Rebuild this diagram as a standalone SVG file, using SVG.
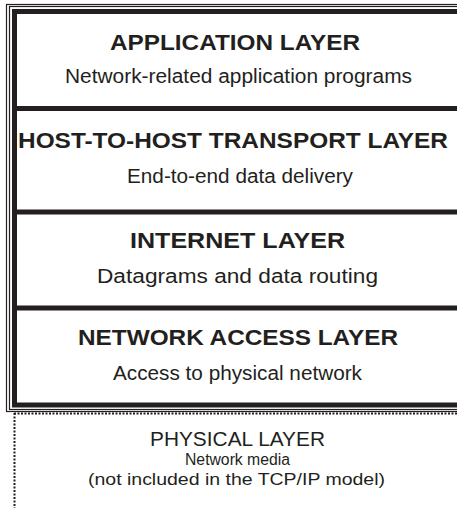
<svg xmlns="http://www.w3.org/2000/svg" width="457" height="508" viewBox="0 0 457 508">
<style>
.thin{fill:none;stroke:#231f20;stroke-width:1.2}
.thick{fill:none;stroke:#231f20;stroke-width:5}
.dot{fill:none;stroke:#231f20;stroke-width:2;stroke-dasharray:2 1.5}
.h{font-family:"Liberation Sans",Arial,sans-serif;font-weight:bold;font-size:22px;fill:#231f20;text-anchor:middle}
.s{font-family:"Liberation Sans",Arial,sans-serif;font-size:19.5px;fill:#231f20;text-anchor:middle}
.p{font-family:"Liberation Sans",Arial,sans-serif;font-size:16px;fill:#231f20;text-anchor:middle}
</style>
<rect width="457" height="508" fill="#ffffff"/>
<g id="frame">
<rect class="thin" x="6.5" y="4.5" width="470" height="407"/>
<rect class="thin" x="9.5" y="6.5" width="470" height="403"/>
<rect class="thick" x="14.5" y="11.5" width="470" height="393.5"/>
</g>
<g id="connectors">
<line class="thick" x1="14" y1="108.5" x2="457" y2="108.5"/>
<line class="thick" x1="14" y1="212" x2="457" y2="212"/>
<line class="thick" x1="14" y1="308" x2="457" y2="308"/>
<line class="dot" x1="14" y1="413.5" x2="457" y2="413.5"/>
<line class="dot" x1="14.5" y1="413" x2="14.5" y2="508"/>
</g>
<g id="application">
<text class="h" x="235" y="50" textLength="250" lengthAdjust="spacingAndGlyphs">APPLICATION LAYER</text>
<text class="s" x="238.5" y="83" textLength="347" lengthAdjust="spacingAndGlyphs">Network-related application programs</text>
</g>
<g id="transport">
<text class="h" x="233" y="148" textLength="430" lengthAdjust="spacingAndGlyphs">HOST-TO-HOST TRANSPORT LAYER</text>
<text class="s" x="240" y="183" textLength="226" lengthAdjust="spacingAndGlyphs">End-to-end data delivery</text>
</g>
<g id="internet">
<text class="h" x="237.5" y="248" textLength="215" lengthAdjust="spacingAndGlyphs">INTERNET LAYER</text>
<text class="s" x="237.5" y="283" textLength="281" lengthAdjust="spacingAndGlyphs">Datagrams and data routing</text>
</g>
<g id="network-access">
<text class="h" x="238" y="345" textLength="320" lengthAdjust="spacingAndGlyphs">NETWORK ACCESS LAYER</text>
<text class="s" x="237.5" y="380" textLength="249" lengthAdjust="spacingAndGlyphs">Access to physical network</text>
</g>
<g id="physical">
<text class="s" x="237.5" y="446" textLength="175" lengthAdjust="spacingAndGlyphs">PHYSICAL LAYER</text>
<text class="p" x="237.5" y="465" textLength="105" lengthAdjust="spacingAndGlyphs">Network media</text>
<text class="p" x="236.5" y="485" textLength="297" lengthAdjust="spacingAndGlyphs">(not included in the TCP/IP model)</text>
</g>
</svg>
